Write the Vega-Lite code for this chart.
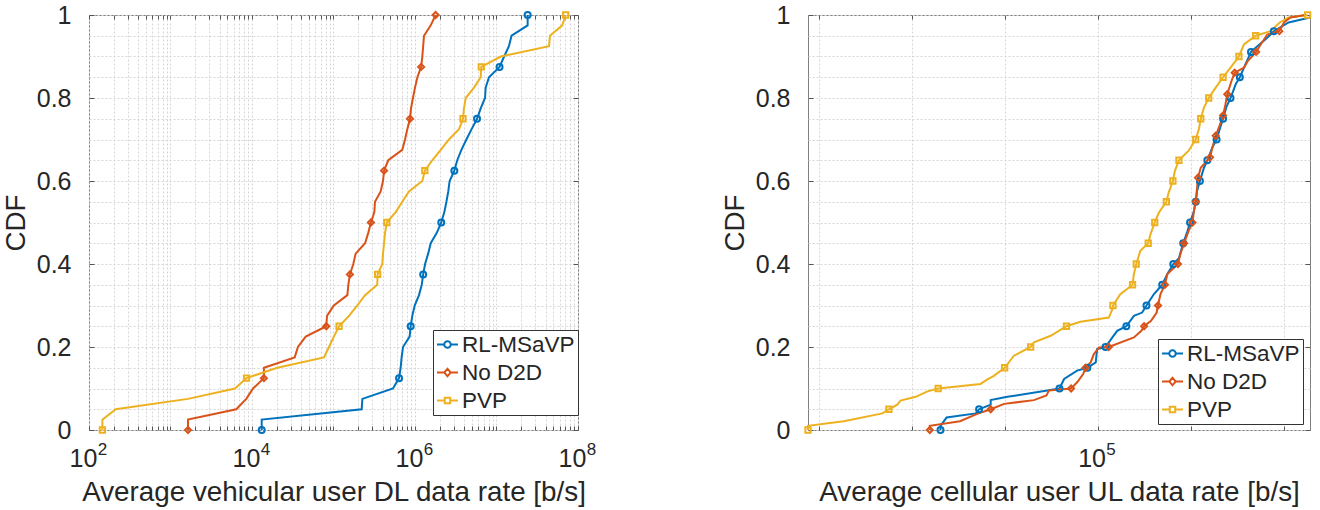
{
"$schema": "https://vega.github.io/schema/vega-lite/v6.json",
"background": "white",
"padding": {"left": 1, "top": 2, "right": 0, "bottom": 0},
"spacing": 123,
"config": {
  "font": "Liberation Sans",
  "view": {"stroke": "#808080", "strokeWidth": 1},
  "axis": {"labelFont": "Liberation Sans", "labelFontSize": 25, "labelColor": "#262626", "titleFont": "Liberation Sans", "titleFontSize": 27.8, "titleFontWeight": "normal", "titleColor": "#262626", "domain": false, "gridColor": "#d6d6d6", "gridDash": [2, 2], "gridWidth": 1, "tickColor": "#555555", "tickWidth": 1},
  "legend": {"labelFont": "Liberation Sans", "labelFontSize": 22.5, "labelColor": "#262626", "strokeColor": "#333333", "fillColor": "white", "padding": 3, "rowPadding": 5, "labelOffset": 3, "symbolSize": 441, "symbolStrokeWidth": 2}
},
"datasets": {
"dl": [
{"s":"RL-MSaVP","p":0,"v":13150,"m":1},{"s":"RL-MSaVP","p":0.025,"v":13150,"m":0},{"s":"RL-MSaVP","p":0.05,"v":221800,"m":0},{"s":"RL-MSaVP","p":0.075,"v":226000,"m":0},{"s":"RL-MSaVP","p":0.1,"v":537000,"m":0},
{"s":"RL-MSaVP","p":0.125,"v":637000,"m":1},{"s":"RL-MSaVP","p":0.15,"v":667000,"m":0},{"s":"RL-MSaVP","p":0.175,"v":685000,"m":0},{"s":"RL-MSaVP","p":0.2,"v":713000,"m":0},{"s":"RL-MSaVP","p":0.225,"v":859000,"m":0},
{"s":"RL-MSaVP","p":0.25,"v":885000,"m":1},{"s":"RL-MSaVP","p":0.275,"v":927000,"m":0},{"s":"RL-MSaVP","p":0.3,"v":991000,"m":0},{"s":"RL-MSaVP","p":0.325,"v":1120000,"m":0},{"s":"RL-MSaVP","p":0.35,"v":1210000,"m":0},
{"s":"RL-MSaVP","p":0.375,"v":1260000,"m":1},{"s":"RL-MSaVP","p":0.4,"v":1330000,"m":0},{"s":"RL-MSaVP","p":0.425,"v":1450000,"m":0},{"s":"RL-MSaVP","p":0.45,"v":1560000,"m":0},{"s":"RL-MSaVP","p":0.475,"v":1850000,"m":0},
{"s":"RL-MSaVP","p":0.5,"v":2100000,"m":1},{"s":"RL-MSaVP","p":0.525,"v":2290000,"m":0},{"s":"RL-MSaVP","p":0.55,"v":2430000,"m":0},{"s":"RL-MSaVP","p":0.575,"v":2560000,"m":0},{"s":"RL-MSaVP","p":0.6,"v":2660000,"m":0},
{"s":"RL-MSaVP","p":0.625,"v":3040000,"m":1},{"s":"RL-MSaVP","p":0.65,"v":3300000,"m":0},{"s":"RL-MSaVP","p":0.675,"v":3710000,"m":0},{"s":"RL-MSaVP","p":0.7,"v":4270000,"m":0},{"s":"RL-MSaVP","p":0.725,"v":4950000,"m":0},
{"s":"RL-MSaVP","p":0.75,"v":5770000,"m":1},{"s":"RL-MSaVP","p":0.775,"v":6400000,"m":0},{"s":"RL-MSaVP","p":0.8,"v":7230000,"m":0},{"s":"RL-MSaVP","p":0.825,"v":7360000,"m":0},{"s":"RL-MSaVP","p":0.85,"v":8090000,"m":0},
{"s":"RL-MSaVP","p":0.875,"v":10900000,"m":1},{"s":"RL-MSaVP","p":0.9,"v":12400000,"m":0},{"s":"RL-MSaVP","p":0.925,"v":14200000,"m":0},{"s":"RL-MSaVP","p":0.95,"v":15300000,"m":0},{"s":"RL-MSaVP","p":0.975,"v":24100000,"m":0},
{"s":"RL-MSaVP","p":1,"v":24100000,"m":1},
{"s":"No D2D","p":0,"v":1640,"m":1},{"s":"No D2D","p":0.025,"v":1640,"m":0},{"s":"No D2D","p":0.05,"v":6410,"m":0},{"s":"No D2D","p":0.075,"v":8510,"m":0},{"s":"No D2D","p":0.1,"v":10300,"m":0},
{"s":"No D2D","p":0.125,"v":14000,"m":1},{"s":"No D2D","p":0.15,"v":14000,"m":0},{"s":"No D2D","p":0.175,"v":33400,"m":0},{"s":"No D2D","p":0.2,"v":36600,"m":0},{"s":"No D2D","p":0.225,"v":45600,"m":0},
{"s":"No D2D","p":0.25,"v":81600,"m":1},{"s":"No D2D","p":0.275,"v":83200,"m":0},{"s":"No D2D","p":0.3,"v":101000,"m":0},{"s":"No D2D","p":0.325,"v":148000,"m":0},{"s":"No D2D","p":0.35,"v":152000,"m":0},
{"s":"No D2D","p":0.375,"v":159000,"m":1},{"s":"No D2D","p":0.4,"v":175000,"m":0},{"s":"No D2D","p":0.425,"v":187000,"m":0},{"s":"No D2D","p":0.45,"v":244000,"m":0},{"s":"No D2D","p":0.475,"v":267000,"m":0},
{"s":"No D2D","p":0.5,"v":288000,"m":1},{"s":"No D2D","p":0.525,"v":317000,"m":0},{"s":"No D2D","p":0.55,"v":323000,"m":0},{"s":"No D2D","p":0.575,"v":379000,"m":0},{"s":"No D2D","p":0.6,"v":405000,"m":0},
{"s":"No D2D","p":0.625,"v":417000,"m":1},{"s":"No D2D","p":0.65,"v":470000,"m":0},{"s":"No D2D","p":0.675,"v":698000,"m":0},{"s":"No D2D","p":0.7,"v":754000,"m":0},{"s":"No D2D","p":0.725,"v":805000,"m":0},
{"s":"No D2D","p":0.75,"v":869000,"m":1},{"s":"No D2D","p":0.775,"v":893000,"m":0},{"s":"No D2D","p":0.8,"v":944000,"m":0},{"s":"No D2D","p":0.825,"v":1000000,"m":0},{"s":"No D2D","p":0.85,"v":1070000,"m":0},
{"s":"No D2D","p":0.875,"v":1190000,"m":1},{"s":"No D2D","p":0.9,"v":1230000,"m":0},{"s":"No D2D","p":0.925,"v":1260000,"m":0},{"s":"No D2D","p":0.95,"v":1290000,"m":0},{"s":"No D2D","p":0.975,"v":1560000,"m":0},
{"s":"No D2D","p":1,"v":1790000,"m":1},
{"s":"PVP","p":0,"v":146,"m":1},{"s":"PVP","p":0.025,"v":146,"m":0},{"s":"PVP","p":0.05,"v":213,"m":0},{"s":"PVP","p":0.075,"v":1640,"m":0},{"s":"PVP","p":0.1,"v":6180,"m":0},
{"s":"PVP","p":0.125,"v":8570,"m":1},{"s":"PVP","p":0.15,"v":20400,"m":0},{"s":"PVP","p":0.175,"v":76400,"m":0},{"s":"PVP","p":0.2,"v":88100,"m":0},{"s":"PVP","p":0.225,"v":101000,"m":0},
{"s":"PVP","p":0.25,"v":117000,"m":1},{"s":"PVP","p":0.275,"v":155000,"m":0},{"s":"PVP","p":0.3,"v":196000,"m":0},{"s":"PVP","p":0.325,"v":244000,"m":0},{"s":"PVP","p":0.35,"v":344000,"m":0},
{"s":"PVP","p":0.375,"v":348000,"m":1},{"s":"PVP","p":0.4,"v":397000,"m":0},{"s":"PVP","p":0.425,"v":405000,"m":0},{"s":"PVP","p":0.45,"v":417000,"m":0},{"s":"PVP","p":0.475,"v":429000,"m":0},
{"s":"PVP","p":0.5,"v":450000,"m":1},{"s":"PVP","p":0.525,"v":580000,"m":0},{"s":"PVP","p":0.55,"v":698000,"m":0},{"s":"PVP","p":0.575,"v":843000,"m":0},{"s":"PVP","p":0.6,"v":1230000,"m":0},
{"s":"PVP","p":0.625,"v":1320000,"m":1},{"s":"PVP","p":0.65,"v":1630000,"m":0},{"s":"PVP","p":0.675,"v":2070000,"m":0},{"s":"PVP","p":0.7,"v":2610000,"m":0},{"s":"PVP","p":0.725,"v":3470000,"m":0},
{"s":"PVP","p":0.75,"v":3880000,"m":1},{"s":"PVP","p":0.775,"v":3990000,"m":0},{"s":"PVP","p":0.8,"v":4190000,"m":0},{"s":"PVP","p":0.825,"v":5300000,"m":0},{"s":"PVP","p":0.85,"v":6400000,"m":0},
{"s":"PVP","p":0.875,"v":6500000,"m":1},{"s":"PVP","p":0.9,"v":11300000,"m":0},{"s":"PVP","p":0.925,"v":44100000,"m":0},{"s":"PVP","p":0.95,"v":45300000,"m":0},{"s":"PVP","p":0.975,"v":64100000,"m":0},
{"s":"PVP","p":1,"v":70600000,"m":1}
],
"ul": [
{"s":"PVP","p":0,"v":23820,"m":1},{"s":"PVP","p":0.01,"v":23820,"m":0},{"s":"PVP","p":0.021,"v":28440,"m":0},{"s":"PVP","p":0.04,"v":34430,"m":0},{"s":"PVP","p":0.05,"v":35560,"m":1},
{"s":"PVP","p":0.061,"v":37070,"m":0},{"s":"PVP","p":0.071,"v":37670,"m":0},{"s":"PVP","p":0.08,"v":40640,"m":0},{"s":"PVP","p":0.093,"v":43050,"m":0},{"s":"PVP","p":0.1,"v":45390,"m":1},
{"s":"PVP","p":0.111,"v":55980,"m":0},{"s":"PVP","p":0.122,"v":57940,"m":0},{"s":"PVP","p":0.13,"v":59700,"m":0},{"s":"PVP","p":0.15,"v":63100,"m":1},{"s":"PVP","p":0.179,"v":66070,"m":0},
{"s":"PVP","p":0.2,"v":71780,"m":1},{"s":"PVP","p":0.211,"v":72950,"m":0},{"s":"PVP","p":0.227,"v":79250,"m":0},{"s":"PVP","p":0.25,"v":85700,"m":1},{"s":"PVP","p":0.261,"v":91830,"m":0},
{"s":"PVP","p":0.271,"v":105700,"m":0},{"s":"PVP","p":0.291,"v":107600,"m":0},{"s":"PVP","p":0.3,"v":107900,"m":1},{"s":"PVP","p":0.327,"v":111900,"m":0},{"s":"PVP","p":0.35,"v":118900,"m":1},
{"s":"PVP","p":0.376,"v":119700,"m":0},{"s":"PVP","p":0.4,"v":121100,"m":1},{"s":"PVP","p":0.432,"v":123600,"m":0},{"s":"PVP","p":0.45,"v":128500,"m":1},{"s":"PVP","p":0.472,"v":130000,"m":0},
{"s":"PVP","p":0.5,"v":132700,"m":1},{"s":"PVP","p":0.524,"v":135500,"m":0},{"s":"PVP","p":0.55,"v":140600,"m":1},{"s":"PVP","p":0.572,"v":142200,"m":0},{"s":"PVP","p":0.6,"v":145200,"m":1},
{"s":"PVP","p":0.624,"v":146600,"m":0},{"s":"PVP","p":0.65,"v":149600,"m":1},{"s":"PVP","p":0.673,"v":157000,"m":0},{"s":"PVP","p":0.7,"v":162600,"m":1},{"s":"PVP","p":0.725,"v":165200,"m":0},
{"s":"PVP","p":0.75,"v":166700,"m":1},{"s":"PVP","p":0.777,"v":169400,"m":0},{"s":"PVP","p":0.8,"v":173400,"m":1},{"s":"PVP","p":0.825,"v":179500,"m":0},{"s":"PVP","p":0.85,"v":186200,"m":1},
{"s":"PVP","p":0.873,"v":193200,"m":0},{"s":"PVP","p":0.9,"v":201400,"m":1},{"s":"PVP","p":0.929,"v":206500,"m":0},{"s":"PVP","p":0.95,"v":218800,"m":1},{"s":"PVP","p":0.961,"v":235500,"m":0},
{"s":"PVP","p":0.982,"v":246600,"m":0},{"s":"PVP","p":0.994,"v":257600,"m":0},{"s":"PVP","p":1,"v":283100,"m":1},
{"s":"RL-MSaVP","p":0,"v":45920,"m":1},{"s":"RL-MSaVP","p":0.01,"v":45920,"m":0},{"s":"RL-MSaVP","p":0.03,"v":47320,"m":0},{"s":"RL-MSaVP","p":0.04,"v":54700,"m":0},{"s":"RL-MSaVP","p":0.05,"v":55590,"m":1},
{"s":"RL-MSaVP","p":0.061,"v":58880,"m":0},{"s":"RL-MSaVP","p":0.072,"v":58880,"m":0},{"s":"RL-MSaVP","p":0.08,"v":63970,"m":0},{"s":"RL-MSaVP","p":0.095,"v":77980,"m":0},{"s":"RL-MSaVP","p":0.1,"v":82790,"m":1},
{"s":"RL-MSaVP","p":0.123,"v":84720,"m":0},{"s":"RL-MSaVP","p":0.143,"v":90360,"m":0},{"s":"RL-MSaVP","p":0.15,"v":95060,"m":1},{"s":"RL-MSaVP","p":0.163,"v":99080,"m":0},{"s":"RL-MSaVP","p":0.195,"v":99770,"m":0},
{"s":"RL-MSaVP","p":0.2,"v":104000,"m":1},{"s":"RL-MSaVP","p":0.223,"v":107600,"m":0},{"s":"RL-MSaVP","p":0.239,"v":110200,"m":0},{"s":"RL-MSaVP","p":0.25,"v":115300,"m":1},{"s":"RL-MSaVP","p":0.275,"v":119700,"m":0},
{"s":"RL-MSaVP","p":0.283,"v":124700,"m":0},{"s":"RL-MSaVP","p":0.3,"v":127400,"m":1},{"s":"RL-MSaVP","p":0.327,"v":132100,"m":0},{"s":"RL-MSaVP","p":0.35,"v":137700,"m":1},{"s":"RL-MSaVP","p":0.376,"v":141300,"m":0},
{"s":"RL-MSaVP","p":0.4,"v":145500,"m":1},{"s":"RL-MSaVP","p":0.414,"v":149600,"m":0},{"s":"RL-MSaVP","p":0.45,"v":152800,"m":1},{"s":"RL-MSaVP","p":0.479,"v":156000,"m":0},{"s":"RL-MSaVP","p":0.5,"v":158100,"m":1},
{"s":"RL-MSaVP","p":0.527,"v":161100,"m":0},{"s":"RL-MSaVP","p":0.55,"v":162600,"m":1},{"s":"RL-MSaVP","p":0.576,"v":163700,"m":0},{"s":"RL-MSaVP","p":0.6,"v":166000,"m":1},{"s":"RL-MSaVP","p":0.632,"v":169400,"m":0},
{"s":"RL-MSaVP","p":0.65,"v":172200,"m":1},{"s":"RL-MSaVP","p":0.681,"v":176600,"m":0},{"s":"RL-MSaVP","p":0.7,"v":180300,"m":1},{"s":"RL-MSaVP","p":0.726,"v":183200,"m":0},{"s":"RL-MSaVP","p":0.75,"v":186200,"m":1},
{"s":"RL-MSaVP","p":0.778,"v":189200,"m":0},{"s":"RL-MSaVP","p":0.8,"v":193200,"m":1},{"s":"RL-MSaVP","p":0.833,"v":198200,"m":0},{"s":"RL-MSaVP","p":0.85,"v":202300,"m":1},{"s":"RL-MSaVP","p":0.881,"v":208000,"m":0},
{"s":"RL-MSaVP","p":0.911,"v":213800,"m":1},{"s":"RL-MSaVP","p":0.921,"v":218800,"m":0},{"s":"RL-MSaVP","p":0.945,"v":231700,"m":0},{"s":"RL-MSaVP","p":0.961,"v":239300,"m":1},{"s":"RL-MSaVP","p":0.982,"v":257600,"m":0},
{"s":"RL-MSaVP","p":0.994,"v":286400,"m":0},
{"s":"No D2D","p":0,"v":43550,"m":1},{"s":"No D2D","p":0.01,"v":43550,"m":0},{"s":"No D2D","p":0.021,"v":50580,"m":0},{"s":"No D2D","p":0.039,"v":55080,"m":0},{"s":"No D2D","p":0.05,"v":58880,"m":1},
{"s":"No D2D","p":0.063,"v":62950,"m":0},{"s":"No D2D","p":0.072,"v":72950,"m":0},{"s":"No D2D","p":0.083,"v":77620,"m":0},{"s":"No D2D","p":0.095,"v":78520,"m":0},{"s":"No D2D","p":0.1,"v":87700,"m":1},
{"s":"No D2D","p":0.115,"v":90360,"m":0},{"s":"No D2D","p":0.135,"v":93110,"m":0},{"s":"No D2D","p":0.15,"v":94190,"m":1},{"s":"No D2D","p":0.163,"v":96610,"m":0},{"s":"No D2D","p":0.183,"v":98170,"m":0},
{"s":"No D2D","p":0.199,"v":100700,"m":0},{"s":"No D2D","p":0.2,"v":105700,"m":1},{"s":"No D2D","p":0.223,"v":119700,"m":0},{"s":"No D2D","p":0.239,"v":124200,"m":0},{"s":"No D2D","p":0.25,"v":125900,"m":1},
{"s":"No D2D","p":0.263,"v":130300,"m":0},{"s":"No D2D","p":0.283,"v":134000,"m":0},{"s":"No D2D","p":0.3,"v":134900,"m":1},{"s":"No D2D","p":0.327,"v":136500,"m":0},{"s":"No D2D","p":0.35,"v":139600,"m":1},
{"s":"No D2D","p":0.376,"v":141300,"m":0},{"s":"No D2D","p":0.4,"v":148900,"m":1},{"s":"No D2D","p":0.424,"v":150700,"m":0},{"s":"No D2D","p":0.45,"v":153500,"m":1},{"s":"No D2D","p":0.48,"v":157000,"m":0},
{"s":"No D2D","p":0.5,"v":160000,"m":1},{"s":"No D2D","p":0.527,"v":161100,"m":0},{"s":"No D2D","p":0.55,"v":162600,"m":1},{"s":"No D2D","p":0.584,"v":163700,"m":0},{"s":"No D2D","p":0.608,"v":164400,"m":1},
{"s":"No D2D","p":0.632,"v":166700,"m":0},{"s":"No D2D","p":0.657,"v":174600,"m":1},{"s":"No D2D","p":0.681,"v":176600,"m":0},{"s":"No D2D","p":0.709,"v":179500,"m":1},{"s":"No D2D","p":0.729,"v":182400,"m":0},
{"s":"No D2D","p":0.758,"v":186200,"m":1},{"s":"No D2D","p":0.785,"v":188400,"m":0},{"s":"No D2D","p":0.809,"v":190100,"m":1},{"s":"No D2D","p":0.841,"v":194100,"m":0},{"s":"No D2D","p":0.861,"v":197200,"m":1},
{"s":"No D2D","p":0.873,"v":206500,"m":0},{"s":"No D2D","p":0.889,"v":210400,"m":0},{"s":"No D2D","p":0.911,"v":219300,"m":1},{"s":"No D2D","p":0.929,"v":224400,"m":0},{"s":"No D2D","p":0.953,"v":231700,"m":0},
{"s":"No D2D","p":0.957,"v":239300,"m":0},{"s":"No D2D","p":0.961,"v":246000,"m":1},{"s":"No D2D","p":0.982,"v":251800,"m":0},{"s":"No D2D","p":0.994,"v":260000,"m":0},{"s":"No D2D","p":1,"v":279900,"m":0}
]
},
"resolve": {"scale": {"color": "independent", "shape": "independent"}, "legend": {"color": "independent", "shape": "independent"}},
"hconcat": [
{
  "width": 489, "height": 415,
  "data": {"name": "dl"},
  "layer": [
    {"mark": {"type": "line", "strokeWidth": 2},
     "encoding": {
       "x": {"field": "v", "type": "quantitative", "scale": {"type": "log", "domain": [100, 100000000], "nice": false},
             "axis": {"orient": "bottom", "title": "Average vehicular user DL data rate [b/s]",
                      "values": [100,200,300,400,500,600,700,800,900,1000,2000,3000,4000,5000,6000,7000,8000,9000,10000,20000,30000,40000,50000,60000,70000,80000,90000,100000,200000,300000,400000,500000,600000,700000,800000,900000,1000000,2000000,3000000,4000000,5000000,6000000,7000000,8000000,9000000,10000000,20000000,30000000,40000000,50000000,60000000,70000000,80000000,90000000,100000000],
                      "grid": true, "tickSize": -4,
                      "labelExpr": "datum.value == 100 || datum.value == 10000 || datum.value == 1000000 || datum.value == 100000000 ? '10' : ''",
                      "labelOverlap": false, "labelFlush": false, "labelBound": false, "labelPadding": 20, "labelOffset": -6, "titlePadding": 7}},
       "y": {"field": "p", "type": "quantitative", "scale": {"domain": [0, 1], "nice": false, "zero": false},
             "axis": {"orient": "left", "title": "CDF",
                      "values": [0,0.05,0.1,0.15,0.2,0.25,0.3,0.35,0.4,0.45,0.5,0.55,0.6,0.65,0.7,0.75,0.8,0.85,0.9,0.95,1],
                      "grid": true, "tickSize": -5,
                      "tickOpacity": {"condition": {"test": "round(datum.value*100) % 20 != 0", "value": 0}, "value": 1},
                      "labelExpr": "round(datum.value*100) % 20 == 0 ? format(datum.value, '~g') : ''",
                      "labelOverlap": false, "labelFlush": false, "labelBound": false, "labelPadding": 23, "titlePadding": 6}},
       "color": {"field": "s", "type": "nominal", "scale": {"domain": ["RL-MSaVP", "No D2D", "PVP"], "range": ["#0072BD", "#D95319", "#EDB120"]}, "legend": {"orient": "none", "legendX": 344, "legendY": 315, "title": null}},
       "order": {"field": "p", "type": "quantitative"}
     }},
    {"transform": [{"filter": "datum.m == 1 && datum.s == 'RL-MSaVP'"}],
     "mark": {"type": "point", "shape": "circle", "filled": false, "strokeWidth": 2, "size": 36, "opacity": 1},
     "encoding": {
       "x": {"field": "v", "type": "quantitative", "axis": {"orient": "top", "title": null, "labels": false, "grid": false, "tickSize": -4,
              "values": [100,200,300,400,500,600,700,800,900,1000,2000,3000,4000,5000,6000,7000,8000,9000,10000,20000,30000,40000,50000,60000,70000,80000,90000,100000,200000,300000,400000,500000,600000,700000,800000,900000,1000000,2000000,3000000,4000000,5000000,6000000,7000000,8000000,9000000,10000000,20000000,30000000,40000000,50000000,60000000,70000000,80000000,90000000,100000000]}},
       "y": {"field": "p", "type": "quantitative", "axis": {"orient": "right", "title": null, "labels": false, "grid": false, "tickSize": -5, "values": [0,0.2,0.4,0.6,0.8,1]}},
       "color": {"field": "s", "type": "nominal", "legend": {"orient": "none", "legendX": 344, "legendY": 315, "title": null}}
     }},
    {"transform": [{"filter": "datum.m == 1 && datum.s == 'No D2D'"}],
     "mark": {"type": "point", "shape": "diamond", "filled": false, "strokeWidth": 2, "size": 36, "opacity": 1},
     "encoding": {
       "x": {"field": "v", "type": "quantitative", "axis": {"orient": "bottom", "title": null, "grid": false, "ticks": false, "tickSize": 0,
              "values": [100, 10000, 1000000, 100000000],
              "labelExpr": "datum.value == 100 ? '2' : datum.value == 10000 ? '4' : datum.value == 1000000 ? '6' : '8'",
              "labelFontSize": 17, "labelOverlap": false, "labelFlush": false, "labelBound": false, "labelPadding": 11, "labelOffset": 13}},
       "y": {"field": "p", "type": "quantitative", "axis": null},
       "color": {"field": "s", "type": "nominal", "legend": {"orient": "none", "legendX": 344, "legendY": 315, "title": null}}
     }},
    {"transform": [{"filter": "datum.m == 1 && datum.s == 'PVP'"}],
     "mark": {"type": "point", "shape": "square", "filled": false, "strokeWidth": 2, "size": 28, "opacity": 1},
     "encoding": {
       "x": {"field": "v", "type": "quantitative", "axis": null},
       "y": {"field": "p", "type": "quantitative", "axis": null},
       "color": {"field": "s", "type": "nominal", "legend": {"orient": "none", "legendX": 344, "legendY": 315, "title": null}}
     }},
    {"transform": [{"filter": "false"}],
     "mark": {"type": "point", "filled": false, "strokeWidth": 2, "opacity": 1},
     "encoding": {
       "x": {"field": "v", "type": "quantitative", "axis": null},
       "y": {"field": "p", "type": "quantitative", "axis": null},
       "color": {"field": "s", "type": "nominal", "legend": {"orient": "none", "legendX": 344, "legendY": 315, "title": null}},
       "shape": {"field": "s", "type": "nominal", "scale": {"domain": ["RL-MSaVP", "No D2D", "PVP"], "range": [
          "M-1,0H-0.31M0.31,0H1M-0.31,0A0.31,0.31,0,1,0,0.31,0A0.31,0.31,0,1,0,-0.31,0",
          "M-1,0H-0.3M0.3,0H1M-0.3,0L0,-0.36L0.3,0L0,0.36Z",
          "M-1,0H-0.26M0.26,0H1M-0.26,-0.26H0.26V0.26H-0.26Z"]},
          "legend": {"orient": "none", "legendX": 344, "legendY": 315, "title": null}}
     }}
  ],
  "resolve": {"axis": {"x": "independent", "y": "independent"}}
},
{
  "width": 502, "height": 415,
  "data": {"name": "ul"},
  "layer": [
    {"mark": {"type": "line", "strokeWidth": 2},
     "encoding": {
       "x": {"field": "v", "type": "quantitative", "scale": {"type": "log", "domain": [23820, 286400], "nice": false},
             "axis": {"orient": "bottom", "title": "Average cellular user UL data rate [b/s]",
                      "values": [25119, 39811, 63096, 100000, 158489, 251189],
                      "grid": true, "tickSize": -4,
                      "labelExpr": "datum.value == 100000 ? '10' : ''",
                      "labelOverlap": false, "labelFlush": false, "labelBound": false, "labelPadding": 20, "labelOffset": -6, "titlePadding": 7}},
       "y": {"field": "p", "type": "quantitative", "scale": {"domain": [0, 1], "nice": false, "zero": false},
             "axis": {"orient": "left", "title": "CDF",
                      "values": [0,0.05,0.1,0.15,0.2,0.25,0.3,0.35,0.4,0.45,0.5,0.55,0.6,0.65,0.7,0.75,0.8,0.85,0.9,0.95,1],
                      "grid": true, "tickSize": -5,
                      "tickOpacity": {"condition": {"test": "round(datum.value*100) % 20 != 0", "value": 0}, "value": 1},
                      "labelExpr": "round(datum.value*100) % 20 == 0 ? format(datum.value, '~g') : ''",
                      "labelOverlap": false, "labelFlush": false, "labelBound": false, "labelPadding": 23, "titlePadding": 6}},
       "color": {"field": "s", "type": "nominal", "scale": {"domain": ["RL-MSaVP", "No D2D", "PVP"], "range": ["#0072BD", "#D95319", "#EDB120"]}, "legend": {"orient": "none", "legendX": 350, "legendY": 324, "title": null}},
       "order": {"field": "p", "type": "quantitative"}
     }},
    {"transform": [{"filter": "datum.m == 1 && datum.s == 'RL-MSaVP'"}],
     "mark": {"type": "point", "shape": "circle", "filled": false, "strokeWidth": 2, "size": 36, "opacity": 1},
     "encoding": {
       "x": {"field": "v", "type": "quantitative", "axis": {"orient": "top", "title": null, "labels": false, "grid": false, "tickSize": -4,
              "values": [25119, 39811, 63096, 100000, 158489, 251189]}},
       "y": {"field": "p", "type": "quantitative", "axis": {"orient": "right", "title": null, "labels": false, "grid": false, "tickSize": -5, "values": [0,0.2,0.4,0.6,0.8,1]}},
       "color": {"field": "s", "type": "nominal", "legend": {"orient": "none", "legendX": 350, "legendY": 324, "title": null}}
     }},
    {"transform": [{"filter": "datum.m == 1 && datum.s == 'No D2D'"}],
     "mark": {"type": "point", "shape": "diamond", "filled": false, "strokeWidth": 2, "size": 36, "opacity": 1},
     "encoding": {
       "x": {"field": "v", "type": "quantitative", "axis": {"orient": "bottom", "title": null, "grid": false, "ticks": false, "tickSize": 0,
              "values": [100000], "labelExpr": "'5'",
              "labelFontSize": 17, "labelOverlap": false, "labelFlush": false, "labelBound": false, "labelPadding": 11, "labelOffset": 13}},
       "y": {"field": "p", "type": "quantitative", "axis": null},
       "color": {"field": "s", "type": "nominal", "legend": {"orient": "none", "legendX": 350, "legendY": 324, "title": null}}
     }},
    {"transform": [{"filter": "datum.m == 1 && datum.s == 'PVP'"}],
     "mark": {"type": "point", "shape": "square", "filled": false, "strokeWidth": 2, "size": 28, "opacity": 1},
     "encoding": {
       "x": {"field": "v", "type": "quantitative", "axis": null},
       "y": {"field": "p", "type": "quantitative", "axis": null},
       "color": {"field": "s", "type": "nominal", "legend": {"orient": "none", "legendX": 350, "legendY": 324, "title": null}}
     }},
    {"transform": [{"filter": "false"}],
     "mark": {"type": "point", "filled": false, "strokeWidth": 2, "opacity": 1},
     "encoding": {
       "x": {"field": "v", "type": "quantitative", "axis": null},
       "y": {"field": "p", "type": "quantitative", "axis": null},
       "color": {"field": "s", "type": "nominal", "legend": {"orient": "none", "legendX": 350, "legendY": 324, "title": null}},
       "shape": {"field": "s", "type": "nominal", "scale": {"domain": ["RL-MSaVP", "No D2D", "PVP"], "range": [
          "M-1,0H-0.31M0.31,0H1M-0.31,0A0.31,0.31,0,1,0,0.31,0A0.31,0.31,0,1,0,-0.31,0",
          "M-1,0H-0.3M0.3,0H1M-0.3,0L0,-0.36L0.3,0L0,0.36Z",
          "M-1,0H-0.26M0.26,0H1M-0.26,-0.26H0.26V0.26H-0.26Z"]},
          "legend": {"orient": "none", "legendX": 350, "legendY": 324, "title": null}}
     }}
  ],
  "resolve": {"axis": {"x": "independent", "y": "independent"}}
}
]
}
